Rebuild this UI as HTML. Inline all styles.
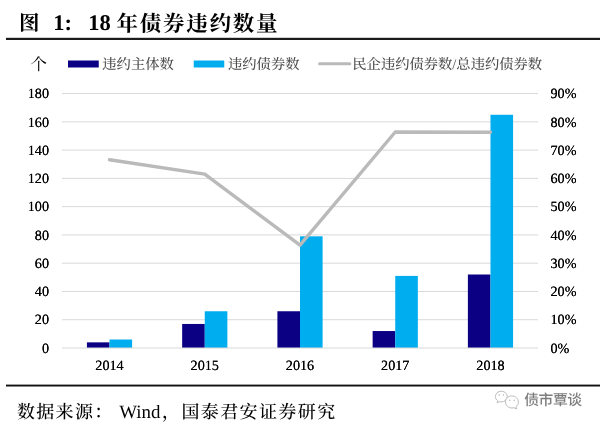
<!DOCTYPE html><html lang="zh"><head><meta charset="utf-8"><title>图 1: 18 年债券违约数量</title>
<style>html,body{margin:0;padding:0;background:#fff}body{width:600px;height:425px;overflow:hidden}svg{display:block;text-rendering:geometricPrecision}text{font-family:'Liberation Serif','Noto Serif CJK SC',serif}</style></head><body>
<svg width="600" height="425" viewBox="0 0 600 425">
<rect width="600" height="425" fill="#fff"/>
<rect x="6" y="37.8" width="594" height="2.2" fill="#1c1c1c"/>
<rect x="6" y="384.6" width="594" height="1.9" fill="#111"/>
<text x="19" y="30.3" font-size="20.5" font-weight="bold" fill="#000">图</text>
<text x="53.3" y="30.2" font-size="22.5" font-weight="bold" fill="#000">1:</text>
<text x="88.2" y="30.2" font-size="22.5" font-weight="bold" fill="#000">18</text>
<text x="116.5" y="30.6" font-size="21.5" font-weight="bold" fill="#000" letter-spacing="1.75">年债券违约数量</text>
<line x1="61.9" x2="538.1" y1="319.73" y2="319.73" stroke="#d9d9d9" stroke-width="1"/>
<line x1="61.9" x2="538.1" y1="291.46" y2="291.46" stroke="#d9d9d9" stroke-width="1"/>
<line x1="61.9" x2="538.1" y1="263.19" y2="263.19" stroke="#d9d9d9" stroke-width="1"/>
<line x1="61.9" x2="538.1" y1="234.92" y2="234.92" stroke="#d9d9d9" stroke-width="1"/>
<line x1="61.9" x2="538.1" y1="206.65" y2="206.65" stroke="#d9d9d9" stroke-width="1"/>
<line x1="61.9" x2="538.1" y1="178.38" y2="178.38" stroke="#d9d9d9" stroke-width="1"/>
<line x1="61.9" x2="538.1" y1="150.11" y2="150.11" stroke="#d9d9d9" stroke-width="1"/>
<line x1="61.9" x2="538.1" y1="121.84" y2="121.84" stroke="#d9d9d9" stroke-width="1"/>
<line x1="61.9" x2="538.1" y1="93.57" y2="93.57" stroke="#d9d9d9" stroke-width="1"/>
<g style="filter:drop-shadow(0.2px 0 0 #000)" font-size="14.2" fill="#000">
<text x="49" y="352.70" text-anchor="end">0</text>
<text x="550.5" y="352.70">0%</text>
<text x="49" y="324.43" text-anchor="end">20</text>
<text x="550.5" y="324.43">10%</text>
<text x="49" y="296.16" text-anchor="end">40</text>
<text x="550.5" y="296.16">20%</text>
<text x="49" y="267.89" text-anchor="end">60</text>
<text x="550.5" y="267.89">30%</text>
<text x="49" y="239.62" text-anchor="end">80</text>
<text x="550.5" y="239.62">40%</text>
<text x="49" y="211.35" text-anchor="end">100</text>
<text x="550.5" y="211.35">50%</text>
<text x="49" y="183.08" text-anchor="end">120</text>
<text x="550.5" y="183.08">60%</text>
<text x="49" y="154.81" text-anchor="end">140</text>
<text x="550.5" y="154.81">70%</text>
<text x="49" y="126.54" text-anchor="end">160</text>
<text x="550.5" y="126.54">80%</text>
<text x="49" y="98.27" text-anchor="end">180</text>
<text x="550.5" y="98.27">90%</text>
<text x="109.52" y="369.6" text-anchor="middle">2014</text>
<text x="204.76" y="369.6" text-anchor="middle">2015</text>
<text x="300.00" y="369.6" text-anchor="middle">2016</text>
<text x="395.24" y="369.6" text-anchor="middle">2017</text>
<text x="490.48" y="369.6" text-anchor="middle">2018</text>
</g>
<rect x="86.92" y="342.35" width="22.60" height="5.65" fill="#0b0084"/>
<rect x="109.52" y="339.52" width="22.60" height="8.48" fill="#00adee"/>
<rect x="182.16" y="323.97" width="22.60" height="24.03" fill="#0b0084"/>
<rect x="204.76" y="311.25" width="22.60" height="36.75" fill="#00adee"/>
<rect x="277.40" y="311.25" width="22.60" height="36.75" fill="#0b0084"/>
<rect x="300.00" y="236.33" width="22.60" height="111.67" fill="#00adee"/>
<rect x="372.64" y="331.04" width="22.60" height="16.96" fill="#0b0084"/>
<rect x="395.24" y="275.91" width="22.60" height="72.09" fill="#00adee"/>
<rect x="467.88" y="274.50" width="22.60" height="73.50" fill="#0b0084"/>
<rect x="490.48" y="114.77" width="22.60" height="233.23" fill="#00adee"/>
<polyline points="109.52,159.72 204.76,174.14 300.00,245.10 395.24,132.02 490.48,132.30" fill="none" stroke="#bababa" stroke-width="3.4" stroke-linejoin="round" stroke-linecap="round"/>
<line x1="61.9" x2="538.1" y1="348.00" y2="348.00" stroke="#d9d9d9" stroke-width="1"/>
<text x="30.5" y="70.2" font-size="16.5" fill="#000">个</text>
<rect x="68" y="60.5" width="30.75" height="7" fill="#0b0084"/>
<text x="102.3" y="69" font-size="14.3" fill="#4d4d4d" font-weight="500">违约主体数</text>
<rect x="193.75" y="60.5" width="30.5" height="7" fill="#00adee"/>
<text x="228" y="69" font-size="14.3" fill="#4d4d4d" font-weight="500">违约债券数</text>
<line x1="319.5" x2="349.75" y1="63.75" y2="63.75" stroke="#bababa" stroke-width="3" stroke-linecap="round"/>
<text x="352.3" y="69" font-size="14.3" fill="#4d4d4d" font-weight="500">民企违约债券数/总违约债券数</text>
<text x="17" y="418.3" font-size="18" fill="#000" letter-spacing="1.3" font-weight="500">数据来源：</text>
<text x="119.3" y="418.2" font-size="18.9" fill="#000">Wind</text>
<text x="162" y="418.3" font-size="18" fill="#000" letter-spacing="1.4" font-weight="500">，国泰君安证券研究</text>
<g fill="#fff" stroke="#b4b4b4" stroke-width="0.9" stroke-linejoin="round"><path d="M501.3 391.2c-3.3 0-5.9 2.4-5.9 5.4 0 1.7 0.9 3.2 2.3 4.2l-0.6 2 2.3-1.2c0.6 0.2 1.3 0.3 1.9 0.3 3.3 0 5.9-2.4 5.9-5.4s-2.600-5.300-5.900-5.300z"/><path d="M511.9 396c3.600 0 6.500 2.700 6.500 6.100 0 1.900-1 3.600-2.500 4.700l0.600 2.200-2.500-1.300c-0.700 0.200-1.400 0.300-2.100 0.300-3.600 0-6.500-2.700-6.500-6s2.900-6 6.500-6z"/></g>
<g fill="#b4b4b4"><circle cx="499.300" cy="395" r="0.700"/><circle cx="503.400" cy="395" r="0.700"/><circle cx="509.800" cy="400.200" r="0.700"/><circle cx="514.200" cy="400.200" r="0.700"/></g>
<text x="524.3" y="405.2" font-size="14.8" letter-spacing="-0.5" fill="#7d7d7d" stroke="#fff" stroke-width="1.6" stroke-opacity="0.9" paint-order="stroke" style="font-family:'Liberation Sans','Noto Sans CJK SC',sans-serif;font-weight:500">债市覃谈</text>
</svg></body></html>
